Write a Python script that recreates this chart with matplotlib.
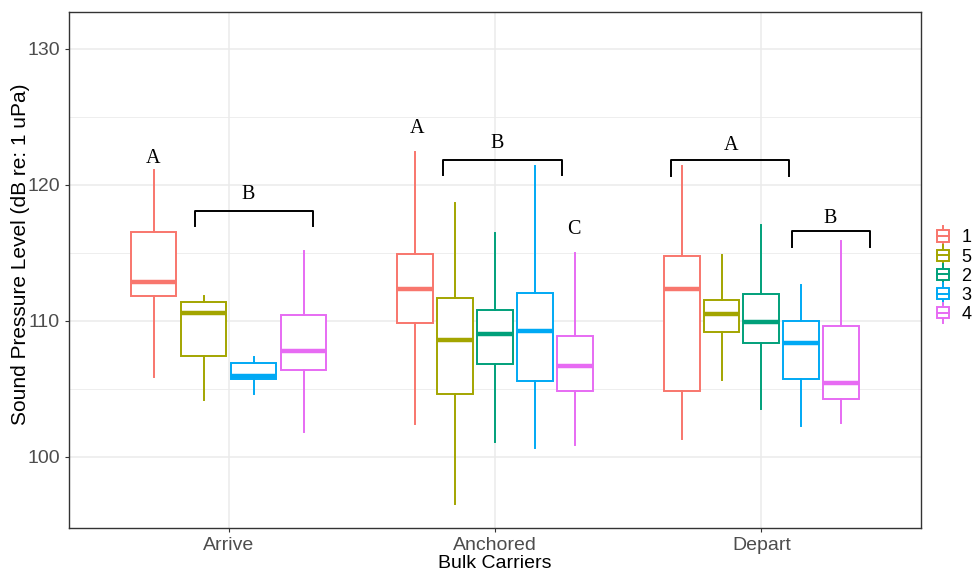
import matplotlib
matplotlib.use("Agg")
from matplotlib import pyplot as plt
from matplotlib.lines import Line2D
from matplotlib.legend_handler import HandlerBase
from matplotlib.patches import Rectangle

plt.rcParams['font.family'] = ['Liberation Sans', 'DejaVu Sans']

# groups on the x axis
groups = ["Arrive", "Anchored", "Depart"]
series = ["1", "5", "2", "3", "4"]
colors = {"1": "#F8766D", "5": "#A3A500", "2": "#00A07A", "3": "#00A9F4", "4": "#E76BF3"}

# box stats per group: series -> (whisker low, q1, median, q3, whisker high)
arrive = {
    "1": (105.9, 111.8, 112.85, 116.5, 121.05),
    "5": (104.2, 107.4, 110.6, 111.35, 111.85),
    "3": (104.6, 105.75, 105.95, 106.9, 107.35),
    "4": (101.85, 106.4, 107.8, 110.4, 115.1),
}
anchored = {
    "1": (102.4, 109.85, 112.35, 114.9, 122.4),
    "5": (96.5, 104.6, 108.6, 111.65, 118.65),
    "2": (101.1, 106.85, 109.05, 110.8, 116.45),
    "3": (100.65, 105.6, 109.25, 112.05, 121.4),
    "4": (100.9, 104.85, 106.7, 108.9, 114.95),
}
depart = {
    "1": (101.3, 104.85, 112.35, 114.75, 121.35),
    "5": (105.65, 109.15, 110.5, 111.55, 114.8),
    "2": (103.5, 108.35, 109.9, 111.95, 117.05),
    "3": (102.25, 105.75, 108.4, 109.95, 112.6),
    "4": (102.45, 104.25, 105.4, 109.65, 115.9),
}
data = [arrive, anchored, depart]

# letter annotations: (x, y, text)
letters = [(0.716, 121.95, "A"), (1.073, 119.25, "B"),
           (1.707, 124.1, "A"), (2.007, 123.0, "B"), (2.296, 116.7, "C"),
           (2.885, 122.85, "A"), (3.256, 117.5, "B")]
# brackets: (x start, x end, y top, y of the legs)
brackets = [(0.873, 1.316, 118.1, 116.95),
            (1.805, 2.25, 121.85, 120.7),
            (2.66, 3.102, 121.8, 120.65),
            (3.114, 3.408, 116.6, 115.45)]

fig = plt.figure(figsize=(9.79, 5.73), dpi=100)
ax = fig.add_axes([0.0702, 0.079, 0.8709, 0.900])

for gi, grp in enumerate(data):
    keys = [s for s in series if s in grp]
    n = len(keys)
    slot = 0.75 / n
    for i, s in enumerate(keys):
        lo, q1, med, q3, hi = grp[s]
        pos = gi + 1 + (i - (n - 1) / 2) * slot
        st = dict(whislo=lo, q1=q1, med=med, q3=q3, whishi=hi, fliers=[])
        c = colors[s]
        ax.bxp([st], positions=[pos], widths=0.9 * slot, showcaps=False,
               showfliers=False, patch_artist=True,
               boxprops=dict(facecolor="white", edgecolor=c, linewidth=1.4),
               whiskerprops=dict(color=c, linewidth=1.4),
               medianprops=dict(color=c, linewidth=3.2, solid_capstyle="butt"),
               zorder=3)

for x, y, t in letters:
    ax.text(x, y, t, ha="center", va="center", fontsize=14.5,
            family=["Liberation Serif", "DejaVu Serif"], color="black", zorder=4)
for x0, x1, ytop, yleg in brackets:
    ax.plot([x0, x0, x1, x1], [yleg, ytop, ytop, yleg], color="black",
            linewidth=1.4, zorder=4)

ax.set_xlim(0.4, 3.6)
ax.set_ylim(94.78, 132.7)
ax.set_xticks([1, 2, 3])
ax.set_xticklabels(groups)
ax.set_yticks([100, 110, 120, 130])
ax.set_yticks([105, 115, 125], minor=True)
ax.tick_params(axis="both", which="major", labelsize=14, colors="#333333",
               labelcolor="#4D4D4D", length=3, width=0.8)
ax.tick_params(axis="both", which="minor", length=0)
ax.grid(True, which="major", color="#EBEBEB", linewidth=1.1, zorder=0)
ax.grid(True, which="minor", axis="y", color="#EBEBEB", linewidth=0.6, zorder=0)
ax.set_axisbelow(True)
for sp in ax.spines.values():
    sp.set_color("#333333")
    sp.set_linewidth(1.0)

ax.set_xlabel("Bulk Carriers", fontsize=14, labelpad=1)
ax.set_ylabel("Sound Pressure Level (dB re: 1 uPa)", fontsize=15)
ax.yaxis.set_label_coords(-0.046, 0.53)


# small boxplot glyph for the legend keys
class BoxHandler(HandlerBase):
    def create_artists(self, legend, orig, xd, yd, w, h, fontsize, trans):
        c = orig.get_color()
        cx = xd + w / 2
        bw = w * 0.8
        r = Rectangle((cx - bw / 2, yd + h * 0.05), bw, h * 0.9,
                      facecolor="white", edgecolor=c, linewidth=1.4, transform=trans)
        m = Line2D([cx - bw / 2, cx + bw / 2], [yd + h * 0.5] * 2, color=c,
                   linewidth=1.4, transform=trans)
        wu = Line2D([cx, cx], [yd + h * 0.95, yd + h * 1.3], color=c, linewidth=1.4, transform=trans)
        wl = Line2D([cx, cx], [yd - h * 0.3, yd + h * 0.05], color=c, linewidth=1.4, transform=trans)
        return [wu, wl, r, m]


handles = [Line2D([], [], color=colors[s]) for s in series]
fig.legend(handles, series, handler_map={Line2D: BoxHandler()},
           loc="center left", bbox_to_anchor=(0.9477, 0.518), frameon=False,
           fontsize=13, handlelength=0.85, handleheight=0.7, labelspacing=0.12,
           handletextpad=0.6, borderaxespad=0)

fig.savefig("out.png", dpi=100)
